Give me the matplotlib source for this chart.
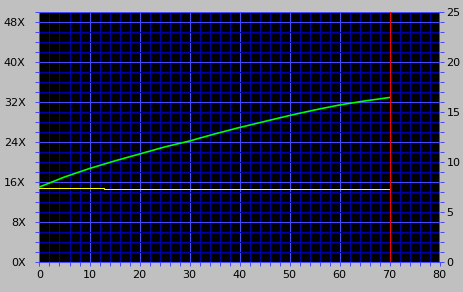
import matplotlib
matplotlib.use('Agg')
import matplotlib.pyplot as plt
from matplotlib.ticker import MultipleLocator

# read speed (X) against position
pos = [0, 5, 10, 15, 20, 25, 30, 35, 40, 45, 50, 55, 60, 65, 70]
speed = [15.0, 17.0, 18.7, 20.2, 21.6, 23.0, 24.2, 25.6, 26.9, 28.1, 29.3, 30.4, 31.4, 32.2, 32.9]
cpu_pos = [0, 12.8, 12.8, 70]
cpu = [14.8, 14.8, 14.6, 14.6]
marker_x = 70
left_ticks = [0, 8, 16, 24, 32, 40, 48]
left_labels = ['0X', '8X', '16X', '24X', '32X', '40X', '48X']
right_ticks = [0, 5, 10, 15, 20, 25]
x_ticks = [0, 10, 20, 30, 40, 50, 60, 70, 80]

bg = '#c0c0c0'
bright = '#4848ff'
dark = '#0000a8'
px = 0.72  # one pixel in points at 100 dpi

fig = plt.figure(figsize=(4.64, 2.92), dpi=100, facecolor=bg)
# half pixel offset on x so the vertical lines land on whole pixels
ax = fig.add_axes([39.5 / 464, 30 / 292, 400 / 464, 250 / 292])
ax.set_facecolor('black')
ax.set_xlim(0, 80)
ax.set_ylim(0, 50)

ax.xaxis.set_minor_locator(MultipleLocator(2))
ax.yaxis.set_minor_locator(MultipleLocator(2))
ax.set_xticks(x_ticks)
ax.set_yticks(left_ticks)
ax.set_yticklabels(left_labels)
ax.grid(which='minor', color=dark, linewidth=px)
ax.grid(which='major', color=bright, linewidth=px)
ax.set_axisbelow(True)

for s in ax.spines.values():
    s.set_color(bright)
    s.set_linewidth(px)

ax.tick_params(axis='both', which='both', colors=bright, labelcolor='black',
               labelsize=8, length=3, width=px)
ax.tick_params(axis='y', pad=7)
ax.tick_params(axis='x', pad=3)

ax.plot(pos, speed, color='#00ff00', linewidth=1.2, zorder=3)
ax.plot(cpu_pos, cpu, color='#ffff00', linewidth=px, zorder=3)
ax.axvline(marker_x, color='#ff0000', linewidth=px, zorder=4)

ax2 = ax.twinx()
ax2.set_ylim(0, 25)
ax2.set_yticks(right_ticks)
ax2.yaxis.set_minor_locator(MultipleLocator(1))
ax2.tick_params(axis='y', which='both', colors=bright, labelcolor='black',
                labelsize=8, length=3, width=px, pad=2)
for s in ax2.spines.values():
    s.set_visible(False)

plt.savefig('out.png', dpi=100, facecolor=bg)
